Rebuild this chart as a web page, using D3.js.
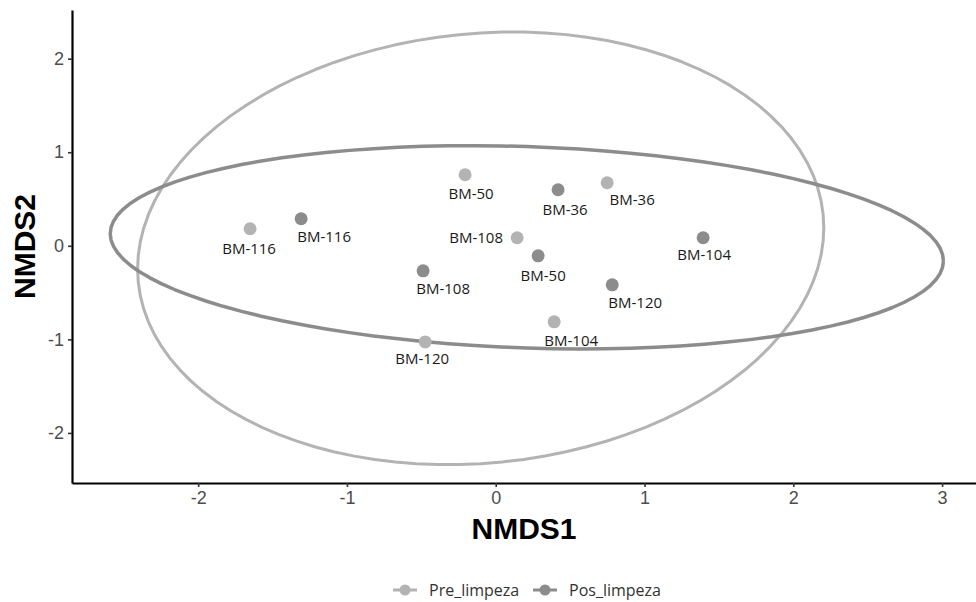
<!DOCTYPE html>
<html>
<head>
<meta charset="utf-8">
<script src="https://cdn.jsdelivr.net/npm/d3@7"></script>
<style>
	body { margin: 0; background: #fff; }
	svg { display: block; }
	.tick-label { font-family: "Liberation Sans", Arial, sans-serif; font-size: 18px; fill: #4d4d4d; }
	.axis-title { font-family: "Liberation Sans", Arial, sans-serif; font-size: 30px; font-weight: bold; fill: #000; }
	.pt-label { font-family: "Open Sans", sans-serif; font-size: 15px; fill: #1a1a1a; }
	.legend-label { font-family: "Open Sans", sans-serif; font-size: 16px; fill: #333; }
</style>
</head>
<body>
<svg id="chart" width="976" height="602"></svg>
<script>
// sample names, same order in both groups
var sites = ['BM-116', 'BM-50', 'BM-36', 'BM-108', 'BM-104', 'BM-120'];

// NMDS scores
var pre_x = [-1.651, -0.206, 0.749, 0.144, 0.393, -0.474];
var pre_y = [0.182, 0.759, 0.674, 0.086, -0.813, -1.027];
var pos_x = [-1.308, 0.285, 0.419, -0.488, 1.394, 0.783];
var pos_y = [0.289, -0.107, 0.599, -0.267, 0.086, -0.417];

// label nudges in px (ggrepel put them there)
var pre_nudge = [[-1, 20], [6, 19], [25, 17], [-41, 0], [17, 19], [-3, 17]];
var pos_nudge = [[23, 18], [5, 20], [7, 20], [20, 18], [1, 17], [23, 18]];

// ellipses: centre x, centre y, x radius, y radius, phase cos
var pre_ell = [-0.101, -0.027, 2.306, 2.312, 0.095];
var pos_ell = [0.209, -0.016, 2.80, 1.086, -0.134];

var groups = ['Pre_limpeza', 'Pos_limpeza'];
var x_ticks = [-2, -1, 0, 1, 2, 3];
var y_ticks = [-2, -1, 0, 1, 2];

var colours = { Pre_limpeza: '#b3b3b3', Pos_limpeza: '#8c8c8c' };

var svg = d3.select('#chart');
var m = { left: 72, right: 976, top: 10, bottom: 483 };

var x = d3.scaleLinear().domain([-2.848, 3.228]).range([m.left, m.right]);
var y = d3.scaleLinear().domain([-2.535, 2.52]).range([m.bottom, m.top]);

function make_points(xs, ys, nudge, grp){
	return sites.map(function(s, i){
		return { name: s, x: xs[i], y: ys[i], dx: nudge[i][0], dy: nudge[i][1], group: grp };
	});
}
var points = make_points(pre_x, pre_y, pre_nudge, 'Pre_limpeza')
	.concat(make_points(pos_x, pos_y, pos_nudge, 'Pos_limpeza'));

function ellipse_path(e){
	var phi = Math.acos(e[4]);
	var pts = d3.range(0, 101).map(function(i){
		var t = i / 100 * 2 * Math.PI;
		return [x(e[0] + e[2] * Math.cos(t)), y(e[1] + e[3] * Math.cos(t + phi))];
	});
	return d3.line()(pts);
}

// ellipses
svg.selectAll('.ellipse')
	.data([[pre_ell, 'Pre_limpeza'], [pos_ell, 'Pos_limpeza']])
	.enter()
	.append('path')
	.attr('class', 'ellipse')
	.attr('d', function(d){ return ellipse_path(d[0]) })
	.attr('fill', 'none')
	.attr('stroke', function(d){ return colours[d[1]] })
	.attr('stroke-width', function(d){ return d[1] == 'Pre_limpeza' ? 3 : 3.5 })
	.attr('stroke-linejoin', 'round');

// axes
var xa = svg.append('g')
	.attr('transform', 'translate(0,' + m.bottom + ')')
	.call(d3.axisBottom(x).tickValues(x_ticks).tickSize(4).tickPadding(4).tickSizeOuter(0).tickFormat(d3.format('d')));
var ya = svg.append('g')
	.attr('transform', 'translate(' + m.left + ',0)')
	.call(d3.axisLeft(y).tickValues(y_ticks).tickSize(4).tickPadding(4).tickSizeOuter(0).tickFormat(d3.format('d')));
[xa, ya].forEach(function(a){
	a.attr('font-size', null).attr('font-family', null);
	a.select('.domain').attr('stroke', '#000').attr('stroke-width', 2.2);
	a.selectAll('.tick line').attr('stroke', '#333').attr('stroke-width', 1.6);
	a.selectAll('.tick text').attr('class', 'tick-label').text(function(d){ return String(d) });
});

svg.append('text')
	.attr('class', 'axis-title')
	.attr('x', (m.left + m.right) / 2)
	.attr('y', 539)
	.attr('text-anchor', 'middle')
	.text('NMDS1');
svg.append('text')
	.attr('class', 'axis-title')
	.attr('transform', 'translate(35,' + (m.top + m.bottom) / 2 + ') rotate(-90)')
	.attr('text-anchor', 'middle')
	.text('NMDS2');

// points
svg.selectAll('.pt')
	.data(points)
	.enter()
	.append('circle')
	.attr('class', 'pt')
	.attr('r', 6.5)
	.attr('cx', function(d){ return x(d.x) })
	.attr('cy', function(d){ return y(d.y) })
	.attr('fill', function(d){ return colours[d.group] });

svg.selectAll('.pt-label')
	.data(points)
	.enter()
	.append('text')
	.attr('class', 'pt-label')
	.attr('x', function(d){ return x(d.x) + d.dx })
	.attr('y', function(d){ return y(d.y) + d.dy })
	.attr('dy', '0.35em')
	.attr('text-anchor', 'middle')
	.text(function(d){ return d.name });

// legend
var legend_x = [405, 545];
var lg = svg.selectAll('.legend')
	.data(groups)
	.enter()
	.append('g')
	.attr('class', 'legend')
	.attr('transform', function(d, i){ return 'translate(' + legend_x[i] + ',590)' });
lg.append('line')
	.attr('x1', -12).attr('x2', 12)
	.attr('stroke', function(d){ return colours[d] })
	.attr('stroke-width', 3);
lg.append('circle')
	.attr('r', 5.5)
	.attr('fill', function(d){ return colours[d] });
lg.append('text')
	.attr('class', 'legend-label')
	.attr('x', 24)
	.attr('dy', '0.35em')
	.text(function(d){ return d });
</script>
</body>
</html>
